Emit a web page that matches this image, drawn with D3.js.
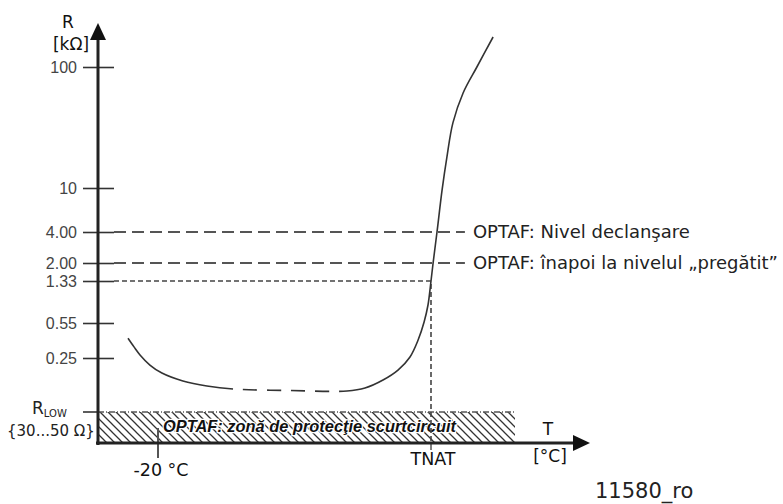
<!DOCTYPE html>
<html>
<head>
<meta charset="utf-8">
<script src="https://cdn.jsdelivr.net/npm/d3@7"></script>
<style>
  body { margin: 0; background: #fff; }
</style>
</head>
<body>
<script>
'use strict';

// resistance ticks (kOhm) and their printed labels
const yTickValues = [100, 10, 4, 2, 1.33, 0.55, 0.25];
const yTickLabels = ['100', '10', '4.00', '2.00', '1.33', '0.55', '0.25'];
const rLow = 0.04; // 30...50 Ohm

// temperature ticks
const tnat = 71;
const xTickValues = [-20, tnat];
const xTickLabels = ['-20 °C', 'TNAT'];

// trip levels
const levelValues = [4, 2];
const levelLabels = ['OPTAF: Nivel declanşare', 'OPTAF: înapoi la nivelul „pregătit”'];
const readyValue = 1.33;

// sensor curve [T, R]; dashed between dashFrom and dashTo
const curvePoints = [
  [-30, 0.39], [-28, 0.321], [-26, 0.268], [-22.7, 0.197], [-18.7, 0.150], [-11.7, 0.1146],
  [-3.7, 0.0966], [5, 0.0873],
  [24, 0.083], [43, 0.0816],
  [49, 0.0903], [55, 0.1185], [60, 0.166], [64, 0.256], [66.7, 0.375], [68.7, 0.562], [70, 0.803],
  [71, 1.33], [71.7, 2.0], [73, 4.0], [74.7, 9.6], [76.3, 18], [78.3, 34.5], [81.7, 61], [86.3, 100], [91.7, 177]
];
const dashFrom = 5;
const dashTo = 43;

const zoneEnd = 99;    // end of hatched zone, T
const levelEnd = 82.3; // end of dashed level lines, T

const W = 783, H = 504;
const axisY = 443;

const svg = d3.select('body').append('svg').attr('width', W).attr('height', H);

const x = d3.scaleLinear().domain([-40, 124]).range([98, 590]);
// schematic, piecewise log axis
const y = d3.scaleLog()
    .domain([rLow, 0.25, 0.55, 1.33, 2, 4, 10, 100])
    .range([412, 358, 323, 281, 263, 232, 188, 67]);

const x0 = x(-40);
const sans = '"DejaVu Sans", Verdana, sans-serif';
const arial = '"Liberation Sans", Arial, sans-serif';

// hatch pattern
const defs = svg.append('defs');
defs.append('pattern')
    .attr('id', 'hatch')
    .attr('patternUnits', 'userSpaceOnUse')
    .attr('width', 8).attr('height', 8)
  .append('path')
    .attr('d', 'M0,0 L8,8 M-1,7 L1,9 M7,-1 L9,1')
    .attr('stroke', '#333')
    .attr('stroke-width', 1.3);

svg.append('rect')
    .attr('x', x0).attr('y', y(rLow))
    .attr('width', x(zoneEnd) - x0)
    .attr('height', axisY - y(rLow))
    .attr('fill', 'url(#hatch)');
svg.append('line')
    .attr('x1', x0).attr('x2', x(zoneEnd))
    .attr('y1', y(rLow)).attr('y2', y(rLow))
    .attr('stroke', '#555').attr('stroke-width', 1.5)
    .attr('stroke-dasharray', '6,2,1,2');

svg.append('text')
    .attr('x', x0 + 65).attr('y', 432)
    .style('font-family', arial).style('font-size', '16.4px')
    .style('font-weight', 'bold').style('font-style', 'italic')
    .style('fill', '#111')
    .style('stroke', '#fff').style('stroke-width', '2.5px')
    .style('paint-order', 'stroke')
    .text('OPTAF: zonă de protecţie scurtcircuit');

// level lines
levelValues.forEach((v, i) => {
  svg.append('line')
      .attr('x1', x0 + 16).attr('x2', x(levelEnd))
      .attr('y1', y(v)).attr('y2', y(v))
      .attr('stroke', '#555').attr('stroke-width', 2)
      .attr('stroke-dasharray', '12,6');
  svg.append('text')
      .attr('x', x(levelEnd) + 8).attr('y', y(v))
      .attr('dy', '0.36em')
      .style('font-family', sans).style('font-size', '18px').style('fill', '#222')
      .text(levelLabels[i]);
});

// "ready" dotted line and TNAT drop
svg.append('path')
    .attr('d', `M${x0 + 16},${y(readyValue)} H${x(tnat)} V${axisY}`)
    .attr('fill', 'none')
    .attr('stroke', '#444').attr('stroke-width', 1.6)
    .attr('stroke-dasharray', '5,3');

// curve
const line = d3.line()
    .x(d => x(d[0]))
    .y(d => y(d[1]))
    .curve(d3.curveCatmullRom.alpha(0.5));

const curve = svg.append('path')
    .datum(curvePoints)
    .attr('d', line)
    .attr('fill', 'none')
    .attr('stroke', '#333')
    .attr('stroke-width', 1.6);

// solid - dashed - solid along one path
(function () {
  const node = curve.node();
  const total = node.getTotalLength();
  function lengthAtX(px) {
    let lo = 0, hi = total;
    for (let k = 0; k < 40; k++) {
      const mid = (lo + hi) / 2;
      if (node.getPointAtLength(mid).x < px) lo = mid; else hi = mid;
    }
    return lo;
  }
  const l1 = lengthAtX(x(dashFrom));
  const l2 = lengthAtX(x(dashTo));
  const arr = [l1];
  let pos = l1;
  let gap = true;
  while (pos < l2) {
    const step = Math.min(gap ? 10 : 14, l2 - pos);
    arr.push(step);
    pos += step;
    gap = !gap;
  }
  if (gap) arr[arr.length - 1] += total - pos; // last was a dash
  else arr.push(total - pos);
  arr.push(total);
  curve.attr('stroke-dasharray', arr.join(','));
})();

// y axis ticks
const yAxis = d3.axisLeft(y)
    .tickValues(yTickValues)
    .tickFormat((d, i) => yTickLabels[i])
    .tickSize(15)
    .tickPadding(6);
const gy = svg.append('g').attr('transform', `translate(${x0},0)`).call(yAxis);
gy.select('.domain').remove();
gy.selectAll('.tick line')
    .attr('x1', 16).attr('x2', -15)
    .attr('stroke', '#333').attr('stroke-width', 1.6);
gy.selectAll('.tick text')
    .style('font-family', arial).style('font-size', '16px').style('fill', '#444');

// R low tick + label
svg.append('line')
    .attr('x1', x0 - 15).attr('x2', x0)
    .attr('y1', y(rLow)).attr('y2', y(rLow))
    .attr('stroke', '#333').attr('stroke-width', 1.6);
const rl = svg.append('text')
    .attr('x', 32).attr('y', 414)
    .style('font-family', sans).style('font-size', '17px').style('fill', '#222');
rl.append('tspan').text('R');
rl.append('tspan').attr('dy', 3).style('font-size', '10px').text('LOW');
svg.append('text')
    .attr('x', 7).attr('y', 436)
    .style('font-family', sans).style('font-size', '15px').style('fill', '#222')
    .text('{30...50 Ω}');

// x ticks
svg.append('line')
    .attr('x1', x(xTickValues[0])).attr('x2', x(xTickValues[0]))
    .attr('y1', 428).attr('y2', 458)
    .attr('stroke', '#555').attr('stroke-width', 2);
svg.append('line')
    .attr('x1', x(xTickValues[1])).attr('x2', x(xTickValues[1]))
    .attr('y1', axisY).attr('y2', axisY + 7)
    .attr('stroke', '#555').attr('stroke-width', 1.5);
svg.selectAll('text.xtick')
    .data(xTickValues)
    .enter().append('text')
    .classed('xtick', true)
    .attr('x', (d, i) => x(d) + (i === 0 ? 3 : 2))
    .attr('y', (d, i) => i === 0 ? 476 : 465)
    .attr('text-anchor', 'middle')
    .style('font-family', sans).style('font-size', '17.5px').style('fill', '#111')
    .text((d, i) => xTickLabels[i]);

// axes with arrows
svg.append('line')
    .attr('x1', x0).attr('x2', x0)
    .attr('y1', axisY + 2).attr('y2', 38)
    .attr('stroke', '#222').attr('stroke-width', 3);
svg.append('path')
    .attr('d', `M${x0},23 L${x0 + 8},40 L${x0 - 8},40 Z`)
    .attr('fill', '#111');
svg.append('line')
    .attr('x1', x0 - 2).attr('x2', x(124) - 15)
    .attr('y1', axisY).attr('y2', axisY)
    .attr('stroke', '#222').attr('stroke-width', 3);
svg.append('path')
    .attr('d', `M${x(124)},${axisY} L${x(124) - 17},${axisY - 8} L${x(124) - 17},${axisY + 8} Z`)
    .attr('fill', '#111');

// axis titles
const titles = [
  { t: 'R', x: 68, y: 28 },
  { t: '[kΩ]', x: 71, y: 50 },
  { t: 'T', x: 548, y: 435 },
  { t: '[°C]', x: 550, y: 462 }
];
svg.selectAll('text.title')
    .data(titles)
    .enter().append('text')
    .classed('title', true)
    .attr('x', d => d.x).attr('y', d => d.y)
    .attr('text-anchor', 'middle')
    .style('font-family', sans).style('font-size', '17px').style('fill', '#111')
    .text(d => d.t);

svg.append('text')
    .attr('x', 595).attr('y', 498)
    .style('font-family', sans).style('font-size', '21px').style('fill', '#222')
    .text('11580_ro');
</script>
</body>
</html>
